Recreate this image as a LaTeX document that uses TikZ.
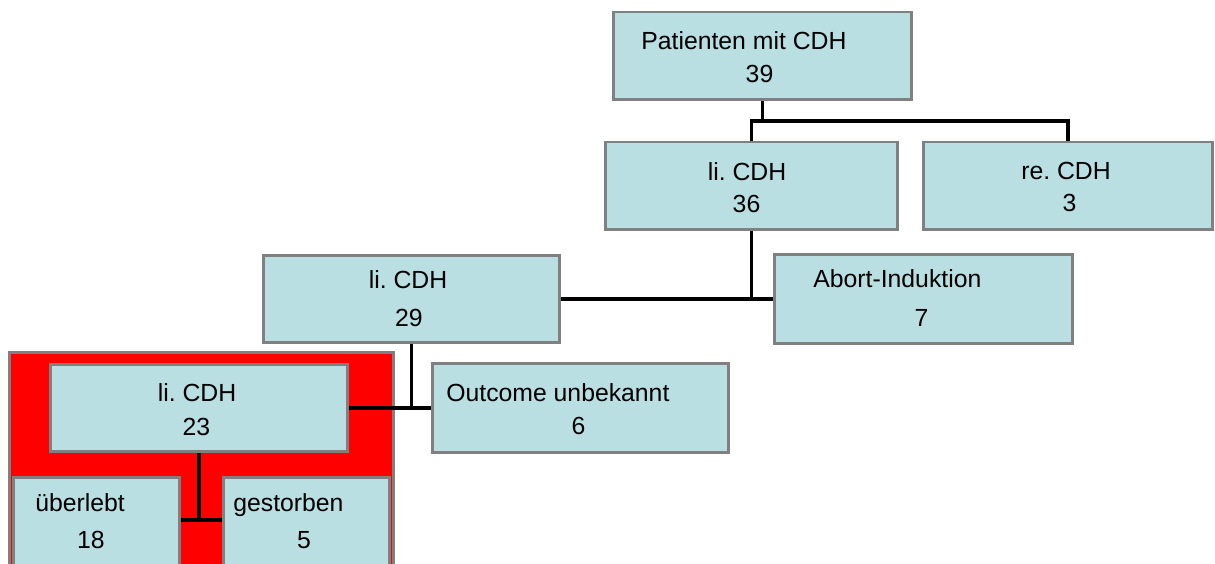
\documentclass[tikz,border=0pt]{standalone}
\usepackage{fontspec}
\setmainfont{Liberation Sans}
\frenchspacing
\definecolor{boxfill}{RGB}{185,223,227}
\definecolor{boxline}{RGB}{128,128,128}
\tikzset{
  box/.style={rectangle, draw=boxline, fill=boxfill, line width=1.7pt, inner sep=0pt},
  redframe/.style={rectangle, draw=boxline, fill=red, line width=1.7pt, inner sep=0pt},
  txt/.style={inner sep=0pt, anchor=base, font=\fontsize{14.1}{17}\selectfont},
  txtw/.style={txt, anchor=base west},
  conn/.style={line width=2.2pt, draw=black, line cap=butt},
}

\begin{document}
\begin{tikzpicture}[x=0.02cm, y=-0.02cm]
\useasboundingbox (0,0) rectangle (1215,564);
\clip (0,0) rectangle (1215,564);
\node[redframe, minimum width=7.70cm, minimum height=4.96cm] (grp) at (201.5,476) {};
\node[box, minimum width=5.98cm, minimum height=1.76cm] (pat) at (762.5,56) {};
\node[box, minimum width=5.86cm, minimum height=1.76cm] (li36) at (751.5,186) {};
\node[box, minimum width=5.80cm, minimum height=1.76cm] (re3) at (1068,186) {};
\node[box, minimum width=5.94cm, minimum height=1.76cm] (li29) at (411.5,299) {};
\node[box, minimum width=5.98cm, minimum height=1.78cm] (abort) at (923.5,299) {};
\node[box, minimum width=5.96cm, minimum height=1.76cm] (li23) at (199,408) {};
\node[box, minimum width=5.94cm, minimum height=1.78cm] (outcome) at (580.5,408) {};
\node[box, minimum width=3.34cm, minimum height=2.46cm] (ueberlebt) at (96.5,538.5) {};
\node[box, minimum width=3.34cm, minimum height=2.46cm] (gestorben) at (306.5,538.5) {};
% texts
\node[txtw] (pat-a) at (641,50) {Patienten mit CDH};
\node[txt] (pat-b) at (759.5,83) {39};
\node[txt] (li36-a) at (747,181) {li. CDH};
\node[txt] (li36-b) at (746.5,213) {36};
\node[txt] (re3-a) at (1066,180) {re. CDH};
\node[txt] (re3-b) at (1069.5,212) {3};
\node[txt] (li29-a) at (408,289) {li. CDH};
\node[txt] (li29-b) at (409,327) {29};
\node[txtw] (abort-a) at (813,288) {Abort-Induktion};
\node[txt] (abort-b) at (921.5,327) {7};
\node[txt] (li23-a) at (197,402) {li. CDH};
\node[txt] (li23-b) at (196.5,436) {23};
\node[txtw] (outcome-a) at (446,402) {Outcome unbekannt};
\node[txt] (outcome-b) at (578.5,435) {6};
\node[txtw] (ueberlebt-a) at (35,512) {überlebt};
\node[txt] (ueberlebt-b) at (91,548) {18};
\node[txtw] (gestorben-a) at (233,512) {gestorben};
\node[txt] (gestorben-b) at (304,548) {5};
% connectors
\coordinate (j1) at (762.5,121);
\coordinate (j4) at (199,520);
\draw[conn] (pat.south) -- (j1);
\draw[conn] (li36.north) |- (j1) -| (re3.north);
\draw[conn] (li36.south) -- (li36.south |- li29.east);
\draw[conn] (li29.east) -- (abort.west);
\draw[conn] (li29.south) -- (li29.south |- li23.east);
\draw[conn] (li23.east) -- (outcome.west);
\draw[conn] (li23.south) -- (j4);
\draw[conn] (ueberlebt.east |- j4) -- (gestorben.west |- j4);
\end{tikzpicture}
\end{document}
